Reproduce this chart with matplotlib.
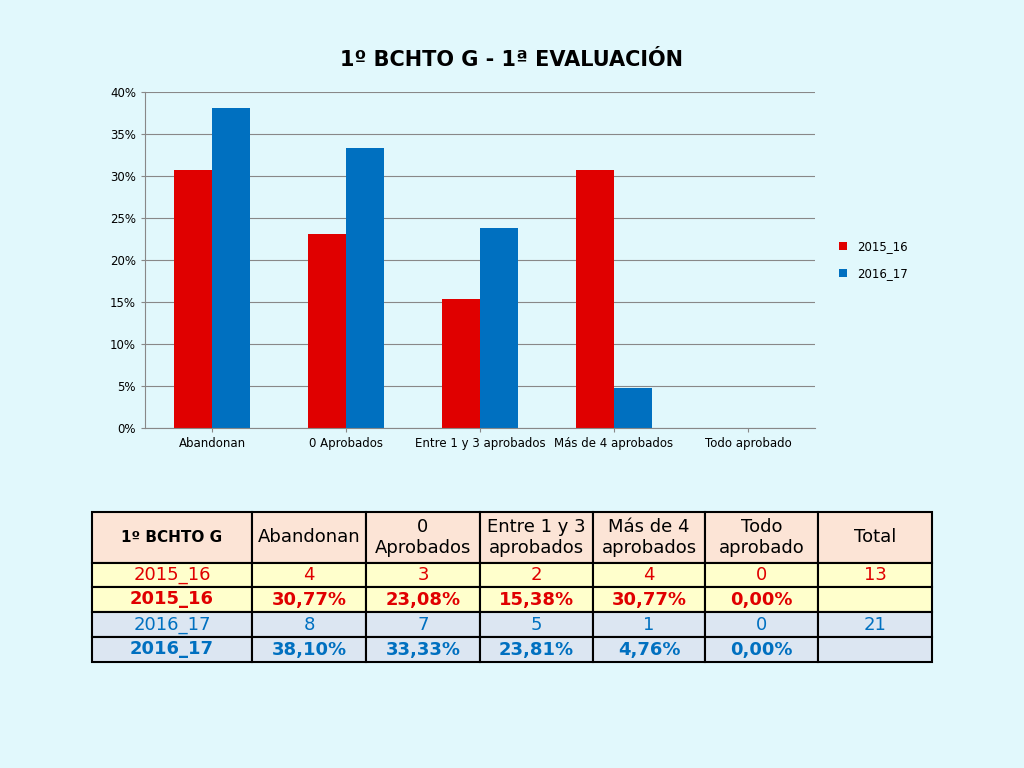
import matplotlib
matplotlib.use("Agg")
import matplotlib.pyplot as plt
import numpy as np

categories = ["Abandonan", "0 Aprobados", "Entre 1 y 3 aprobados", "Más de 4 aprobados", "Todo aprobado"]
pct_2015 = [30.77, 23.08, 15.38, 30.77, 0.0]
pct_2016 = [38.10, 33.33, 23.81, 4.76, 0.0]
cnt_2015 = [4, 3, 2, 4, 0]
cnt_2016 = [8, 7, 5, 1, 0]
total_2015 = 13
total_2016 = 21
header = ["1º BCHTO G", "Abandonan", "0\nAprobados", "Entre 1 y 3\naprobados", "Más de 4\naprobados", "Todo\naprobado", "Total"]

BG = "#E1F8FC"
RED = "#E00000"
BLUE = "#0070C0"
fig = plt.figure(figsize=(10.24, 7.68), dpi=100, facecolor=BG)
ax = fig.add_axes([145/1024, 1-428/768, 670/1024, 336/768], facecolor=BG)
x = np.arange(len(categories))
w = 0.28
ax.bar(x - w/2, pct_2015, w, color=RED, label="2015_16")
ax.bar(x + w/2, pct_2016, w, color=BLUE, label="2016_17")
ax.set_xlim(-0.5, 4.5)
ax.set_ylim(0, 40)
ax.set_yticks(range(0, 41, 5))
ax.set_yticklabels([f"{v}%" for v in range(0, 41, 5)])
ax.set_xticks(x)
ax.set_xticklabels(categories)
ax.tick_params(labelsize=8.5, length=3, color="#888888")
ax.grid(axis="y", color="#888888", lw=0.8)
ax.set_axisbelow(True)
for s in ["top", "right"]:
    ax.spines[s].set_visible(False)
for s in ["left", "bottom"]:
    ax.spines[s].set_color("#888888")
fig.text(0.5, 1-60/768, "1º BCHTO G - 1ª EVALUACIÓN", ha="center", va="center", fontsize=15, fontweight="bold")
ax.legend(loc="center left", bbox_to_anchor=(1.02, 0.5), frameon=False, fontsize=8.5, handlelength=0.7, labelspacing=1.2)

def fmt(v):
    return f"{v:.2f}%".replace(".", ",")

rows = [header,
        ["2015_16"] + [str(c) for c in cnt_2015] + [str(total_2015)],
        ["2015_16"] + [fmt(v) for v in pct_2015] + [""],
        ["2016_17"] + [str(c) for c in cnt_2016] + [str(total_2016)],
        ["2016_17"] + [fmt(v) for v in pct_2016] + [""]]
tax = fig.add_axes([92/1024, 1-662/768, 840/1024, 150/768])
tax.axis("off")
colw = np.array([160, 114, 114, 113, 112, 113, 114]) / 840
tbl = tax.table(cellText=rows, colWidths=colw, bbox=[0, 0, 1, 1], cellLoc="center")
tbl.auto_set_font_size(False)
row_h = [51, 24, 25, 25, 25]
fills = ["#FCE4D6", "#FFFFCC", "#FFFFCC", "#DCE6F2", "#DCE6F2"]
tcol = ["black", RED, RED, BLUE, BLUE]
for (r, c), cell in tbl.get_celld().items():
    cell.set_height(row_h[r] / 150)
    cell.set_facecolor(fills[r])
    cell.set_edgecolor("black")
    cell.set_linewidth(1.5)
    t = cell.get_text()
    t.set_color(tcol[r])
    t.set_fontsize(13)
    if r in (2, 4) or (r == 0 and c == 0):
        t.set_fontweight("bold")
    if r == 0 and c == 0:
        t.set_fontsize(11)
fig.savefig("out.png", dpi=100, facecolor=BG)
